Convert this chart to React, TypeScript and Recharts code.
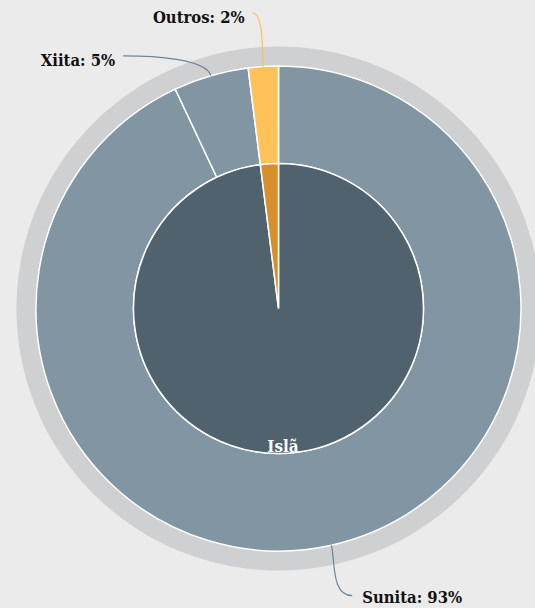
import { PieChart, Pie, Cell } from 'recharts'

const outerNames = ['Sunita', 'Xiita', 'Outros']
const outerValues = [93, 5, 2]
const innerNames = ['Islã', 'Outros']
const innerValues = [98, 2]

const outerColors = ['#8195a3', '#8195a3', '#ffc15a']
const innerColors = ['#4f626e', '#d68f2a']
const lineColors = ['#6f8595', '#6f8595', '#ffc15a']

const outerData = outerNames.map((name, i) => ({ name, value: outerValues[i] }))
const innerData = innerNames.map((name, i) => ({ name, value: innerValues[i] }))
const ringData = [{ name: 'ring', value: 1 }]

const RAD = Math.PI / 180
const FONT = '"DejaVu Serif Condensed", "DejaVu Serif", serif'

// labels get nudged a bit around the circle so they don't collide
const labelShift: Record<string, number> = { Sunita: 1.8, Xiita: 15.4, Outros: 1.4 }

function polar(cx: number, cy: number, r: number, a: number) {
    return [cx + r * Math.cos(-a * RAD), cy + r * Math.sin(-a * RAD)]
}

function OuterLabel(props: any) {
    const { cx, cy, midAngle, outerRadius, name, value, index } = props
    const [x0, y0] = polar(cx, cy, outerRadius, midAngle)
    const [x1, y1] = polar(cx, cy, outerRadius + 54, midAngle + (labelShift[name] ?? 0))
    const [c1x, c1y] = polar(cx, cy, outerRadius + 18, midAngle)
    const dir = Math.sign(x0 - x1)
    const c2x = x1 + dir * Math.min(30, Math.abs(x0 - x1))
    const right = x1 > cx
    const below = y1 > cy
    return (
        <g>
            <path
                d={`M${x0},${y0} C${c1x},${c1y} ${c2x},${y1} ${x1},${y1}`}
                stroke={lineColors[index]}
                strokeWidth={1.2}
                fill="none"
            />
            <text
                x={right ? x1 + 10 : x1 - 8}
                y={below ? y1 + 1.5 : y1 + 4.5}
                textAnchor={right ? 'start' : 'end'}
                dominantBaseline="central"
                fontFamily={FONT}
                fontWeight="bold"
                fontSize={16.5}
                fill="#111"
            >
                {`${name}: ${value}%`}
            </text>
        </g>
    )
}

function InnerLabel(props: any) {
    const { cx, cy, outerRadius, name, index } = props
    if (index !== 0) return null
    return (
        <text
            x={cx + 4.5}
            y={cy + outerRadius - 8}
            textAnchor="middle"
            dominantBaseline="central"
            fontFamily={FONT}
            fontWeight="bold"
            fontSize={17}
            fill="#fff"
        >
            {name}
        </text>
    )
}

export default function App() {
    const cx = 278.5
    const cy = 308.5
    return (
        <div style={{ position: 'fixed', left: 0, top: 0, width: 535, height: 608, background: '#ebebeb' }}>
            <PieChart width={535} height={608} margin={{ top: 0, right: 0, bottom: 0, left: 0 }}>
                <Pie
                    data={ringData}
                    dataKey="value"
                    cx={cx}
                    cy={cy}
                    innerRadius={240}
                    outerRadius={262}
                    startAngle={90}
                    endAngle={-270}
                    fill="#cfd0d2"
                    stroke="none"
                    isAnimationActive={false}
                />
                <Pie
                    data={outerData}
                    dataKey="value"
                    cx={cx}
                    cy={cy}
                    innerRadius={145}
                    outerRadius={242.5}
                    startAngle={90}
                    endAngle={-270}
                    stroke="#fff"
                    strokeWidth={1.5}
                    label={OuterLabel}
                    labelLine={false}
                    isAnimationActive={false}
                >
                    {outerData.map((d, i) => (
                        <Cell key={d.name} fill={outerColors[i]} />
                    ))}
                </Pie>
                <Pie
                    data={innerData}
                    dataKey="value"
                    cx={cx}
                    cy={cy}
                    innerRadius={0}
                    outerRadius={145}
                    startAngle={90}
                    endAngle={-270}
                    stroke="#fff"
                    strokeWidth={1.5}
                    label={InnerLabel}
                    labelLine={false}
                    isAnimationActive={false}
                >
                    {innerData.map((d, i) => (
                        <Cell key={d.name} fill={innerColors[i]} />
                    ))}
                </Pie>
            </PieChart>
        </div>
    )
}
